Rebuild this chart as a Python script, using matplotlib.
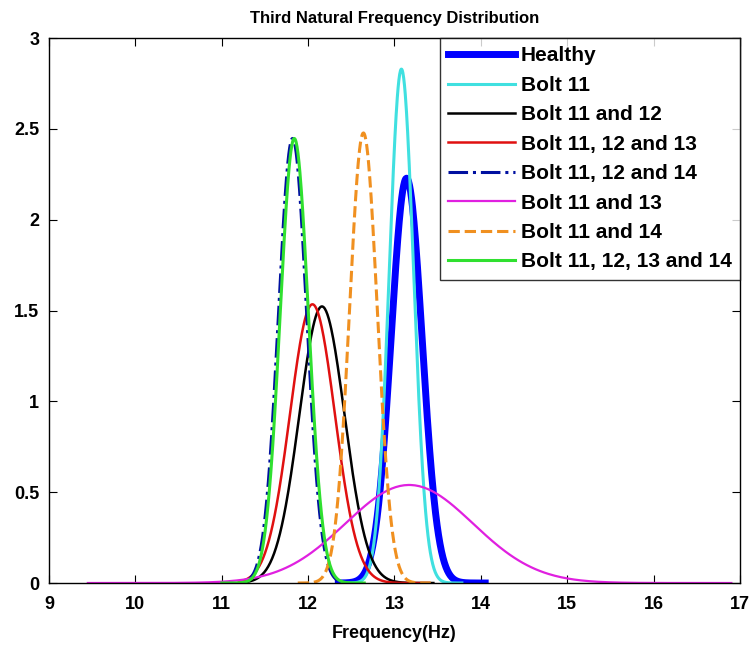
import numpy as np
import matplotlib
matplotlib.use("Agg")
import matplotlib.pyplot as plt

# Parametry rozkladow normalnych
labels = ['Healthy', 'Bolt 11', 'Bolt 11 and 12', 'Bolt 11, 12 and 13',
          'Bolt 11, 12 and 14', 'Bolt 11 and 13', 'Bolt 11 and 14',
          'Bolt 11, 12, 13 and 14']
means = [13.14, 13.08, 12.16, 12.05, 11.82, 13.17, 12.64, 11.84]
sigmas = [0.179, 0.141, 0.262, 0.260, 0.163, 0.739, 0.161, 0.163]
x_start = [12.35, 12.40, 11.20, 11.20, 11.30, 9.45, 11.88, 11.00]
x_end = [14.05, 13.78, 13.45, 13.40, 12.37, 16.90, 13.42, 12.65]

colors = ['#0000ff', '#40e0e0', 'black', '#e01010', '#0010a0', '#e020e0',
          '#f09020', '#30e030']
styles = ['-', '-', '-', '-', '-.', '-', '--', '-']
widths = [5, 2.2, 1.8, 1.8, 2.2, 1.6, 2.2, 2.2]

plt.rcParams['font.family'] = ['Liberation Sans', 'DejaVu Sans']
plt.rcParams['font.weight'] = 'bold'

fig = plt.figure(figsize=(7.49, 6.46), dpi=100)
ax = fig.add_axes([0.0654, 0.0975, 0.9226, 0.8435])

for lab, m, s, a, b, c, ls, lw in zip(labels, means, sigmas, x_start, x_end,
                                      colors, styles, widths):
    x = np.linspace(a, b, 300)
    y = np.exp(-0.5 * ((x - m) / s) ** 2) / (s * np.sqrt(2 * np.pi))
    ax.plot(x, y, color=c, linestyle=ls, linewidth=lw, label=lab)

ax.set_xlim(9, 17)
ax.set_ylim(0, 3)
ax.set_xticks(range(9, 18))
ax.set_yticks([0, 0.5, 1, 1.5, 2, 2.5, 3])
ax.set_yticklabels(['0', '0.5', '1', '1.5', '2', '2.5', '3'])
ax.tick_params(direction='in', top=True, right=True, labelsize=13, length=6)
ax.tick_params(axis='x', pad=9)
ax.tick_params(axis='y', pad=7)
for sp in ax.spines.values():
    sp.set_linewidth(1.0)
ax.set_title('Third Natural Frequency Distribution', fontsize=12,
             fontweight='bold', pad=11)
ax.set_xlabel('Frequency(Hz)', fontsize=13, fontweight='bold', labelpad=9)

leg = ax.legend(loc='upper right', fontsize=15, frameon=True, fancybox=False,
                borderaxespad=0, handlelength=3.2, handletextpad=0.3,
                labelspacing=0.5, borderpad=0.4)
leg.get_frame().set_edgecolor('black')
leg.get_frame().set_linewidth(1.0)

fig.savefig('out.png', dpi=100)
